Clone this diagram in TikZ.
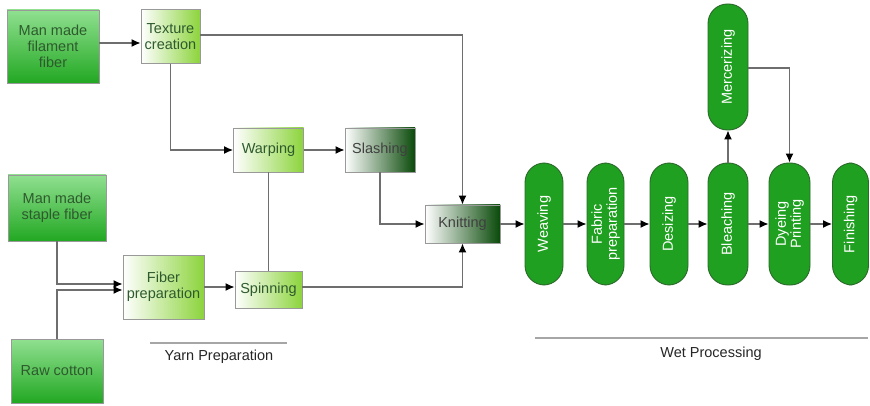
\documentclass[tikz,border=0pt]{standalone}
\usepackage{fontspec}
\setmainfont{Liberation Sans}
\usetikzlibrary{arrows.meta}
\definecolor{vlight}{HTML}{90E090}
\definecolor{vdark}{HTML}{22A822}
\definecolor{limeg}{HTML}{8CD43C}
\definecolor{darkg}{HTML}{0A4A0A}
\definecolor{ovalg}{HTML}{20A020}
\definecolor{ovalb}{HTML}{2A6A2A}
\definecolor{txtg}{HTML}{2E5A2E}
\definecolor{lineg}{HTML}{6E6E6E}
\tikzset{
  box/.style={draw=gray!80, line width=0.9pt, inner sep=0pt, align=center,
    font=\fontsize{14.5}{16}\selectfont, text=txtg},
  srcbox/.style={box, top color=vlight, bottom color=vdark},
  limebox/.style={box, left color=white, right color=limeg},
  darkbox/.style={box, left color=white, right color=darkg, text=black!75},
  oval/.style={draw=ovalb, line width=0.9pt, fill=ovalg, rounded corners=19.5pt,
    minimum height=122pt, inner sep=0pt},
  ovaltext/.style={rotate=90, text=white, align=center, font=\fontsize{14.5}{15}\selectfont},
  conn/.style={draw=lineg, line width=1.3pt},
  arr/.style={conn, -{Latex[length=9pt,width=8pt,black]}},
  sep/.style={draw=gray!70, line width=1.3pt}
}
\begin{document}
\begin{tikzpicture}[x=1pt,y=-1pt]
\path[use as bounding box, fill=white] (0,0) rectangle (870,406);

% left source boxes
\node[srcbox, minimum width=92pt, minimum height=73pt] (fil) at (53,46.5) {Man made\\filament\\fiber};
\node[srcbox, minimum width=98pt, minimum height=66pt] (sta) at (57,208) {Man made\\staple fiber};
\node[srcbox, minimum width=92pt, minimum height=64pt] (raw) at (57,371) {Raw cotton};

% yarn preparation boxes
\node[limebox, minimum width=59pt, minimum height=54pt] (tex) at (170.5,36.5) {Texture\\creation};
\node[limebox, minimum width=81pt, minimum height=64pt] (fib) at (163.5,287) {Fiber\\preparation};
\node[limebox, minimum width=70pt, minimum height=44pt] (warp) at (268.5,150) {Warping};
\node[limebox, minimum width=67pt, minimum height=37pt] (spin) at (268.5,290) {Spinning};
\node[darkbox, minimum width=70pt, minimum height=44pt] (sla) at (380,150) {Slashing};
\node[darkbox, minimum width=75pt, minimum height=38pt] (knit) at (462.5,224) {Knitting};

% wet processing ovals
\node[oval, minimum width=38pt, label={[ovaltext]center:Weaving}] (wea) at (544,224) {};
\node[oval, minimum width=37pt, label={[ovaltext]center:{Fabric\\preparation}}] (fab) at (605.5,224) {};
\node[oval, minimum width=38pt, label={[ovaltext]center:Desizing}] (des) at (669,224) {};
\node[oval, minimum width=40pt, label={[ovaltext]center:Bleaching}] (ble) at (728,224) {};
\node[oval, minimum width=41pt, label={[ovaltext]center:{Dyeing\\Printing}}] (dye) at (789.5,224) {};
\node[oval, minimum width=36pt, label={[ovaltext]center:Finishing}] (fin) at (850.5,224) {};
\node[oval, minimum width=40pt, minimum height=126pt, label={[ovaltext]center:Mercerizing}] (mer) at (728,67) {};

% connectors
\draw[arr] (fil.east |- 0,43) -- (tex.west |- 0,43);
\draw[arr] (tex.south) |- (warp.west);
\draw[arr] (tex.east |- 0,35) -| (knit.north);
\draw[arr] (warp.east) -- (sla.west);
\draw[arr] (sla.south) |- (knit.west);
\draw[conn] (spin.north) -- (warp.south);
\draw[arr] (sta.south) |- (fib.west |- 0,284);
\draw[arr] (raw.north) |- (fib.west |- 0,290);
\draw[arr] (fib.east |- 0,287) -- (spin.west |- 0,287);
\draw[arr] (spin.east |- 0,287) -| (knit.south);
\draw[arr] (knit.east) -- (wea.west);
\draw[arr] (wea.east) -- (fab.west);
\draw[arr] (fab.east) -- (des.west);
\draw[arr] (des.east) -- (ble.west);
\draw[arr] (ble.east) -- (dye.west);
\draw[arr] (dye.east) -- (fin.west);
\draw[arr] (ble.north) -- (mer.south);
\draw[arr] (mer.east |- 0,68) -| (dye.north);

% section labels
\coordinate (y1) at (150,343);
\coordinate (y2) at (287,343);
\draw[sep] (y1) -- (y2);
\node[font=\fontsize{14.5}{16}\selectfont, text=black!85] (ylab) at (219,357) {Yarn Preparation};
\coordinate (w1) at (535,338);
\coordinate (w2) at (868,338);
\draw[sep] (w1) -- (w2);
\node[font=\fontsize{14.5}{16}\selectfont, text=black!85] (wlab) at (711,354) {Wet Processing};
\end{tikzpicture}
\end{document}
